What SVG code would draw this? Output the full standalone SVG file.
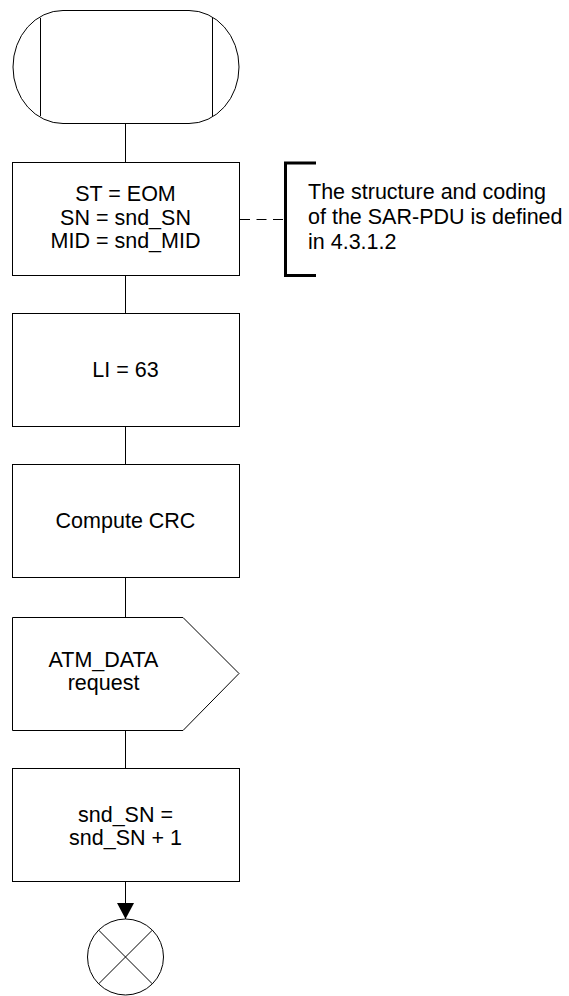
<svg xmlns="http://www.w3.org/2000/svg" width="569" height="996" viewBox="0 0 569 996">
<style>
.s{fill:#fff;stroke:#000;stroke-width:1}
.t{font-family:"Liberation Sans",Arial,sans-serif;font-size:21.5px;fill:#000}
.c{text-anchor:middle}
.ln{stroke:#000;stroke-width:1;fill:none}
</style>
<defs>
<marker id="arr" markerWidth="18" markerHeight="17" refX="16" refY="8.5" orient="auto" markerUnits="userSpaceOnUse">
<path d="M0,0 L16,8.5 L0,17 Z" fill="#000"/>
</marker>
</defs>
<rect width="569" height="996" fill="#fff"/>
<g id="connectors">
<line class="ln" x1="125.5" y1="124" x2="125.5" y2="162"/>
<line class="ln" x1="125.5" y1="275" x2="125.5" y2="313"/>
<line class="ln" x1="125.5" y1="427" x2="125.5" y2="464"/>
<line class="ln" x1="125.5" y1="578" x2="125.5" y2="617"/>
<line class="ln" x1="125.5" y1="730" x2="125.5" y2="768"/>
<line class="ln" x1="125.5" y1="881" x2="125.5" y2="919" marker-end="url(#arr)"/>
<line class="ln" x1="240" y1="219.5" x2="285" y2="219.5" stroke-dasharray="10 6.5"/>
</g>
<g id="start">
<rect class="s" x="13" y="10.5" width="226" height="113" rx="50" ry="56.5"/>
<line class="ln" x1="40.5" y1="18" x2="40.5" y2="116"/>
<line class="ln" x1="212.5" y1="18" x2="212.5" y2="116"/>
</g>
<g id="task1">
<rect class="s" x="12.5" y="162.5" width="227" height="113"/>
<text class="t c" x="125.5" y="201">ST = EOM</text>
<text class="t c" x="125.5" y="224.5">SN = snd_SN</text>
<text class="t c" x="125.5" y="248">MID = snd_MID</text>
</g>
<g id="note">
<path d="M316,163 H285.5 V275.5 H316" fill="none" stroke="#000" stroke-width="3"/>
<text class="t" x="308" y="199">The structure and coding</text>
<text class="t" x="308" y="224">of the SAR-PDU is defined</text>
<text class="t" x="308" y="249">in 4.3.1.2</text>
</g>
<g id="task2">
<rect class="s" x="12.5" y="313.5" width="227" height="113"/>
<text class="t c" x="125.5" y="377">LI = 63</text>
</g>
<g id="task3">
<rect class="s" x="12.5" y="464.5" width="227" height="113"/>
<text class="t c" x="125.5" y="528">Compute CRC</text>
</g>
<g id="output">
<polygon class="s" points="12.5,617.5 183,617.5 239,673.5 183,730.5 12.5,730.5"/>
<text class="t c" x="103.5" y="667">ATM_DATA</text>
<text class="t c" x="103.5" y="690">request</text>
</g>
<g id="task4">
<rect class="s" x="12.5" y="768.5" width="227" height="113"/>
<text class="t c" x="125.5" y="822">snd_SN =</text>
<text class="t c" x="125.5" y="845">snd_SN + 1</text>
</g>
<g id="stop">
<circle class="s" cx="125.5" cy="957" r="38"/>
<line class="ln" x1="98.6" y1="930.1" x2="152.4" y2="983.9"/>
<line class="ln" x1="152.4" y1="930.1" x2="98.6" y2="983.9"/>
</g>
</svg>
